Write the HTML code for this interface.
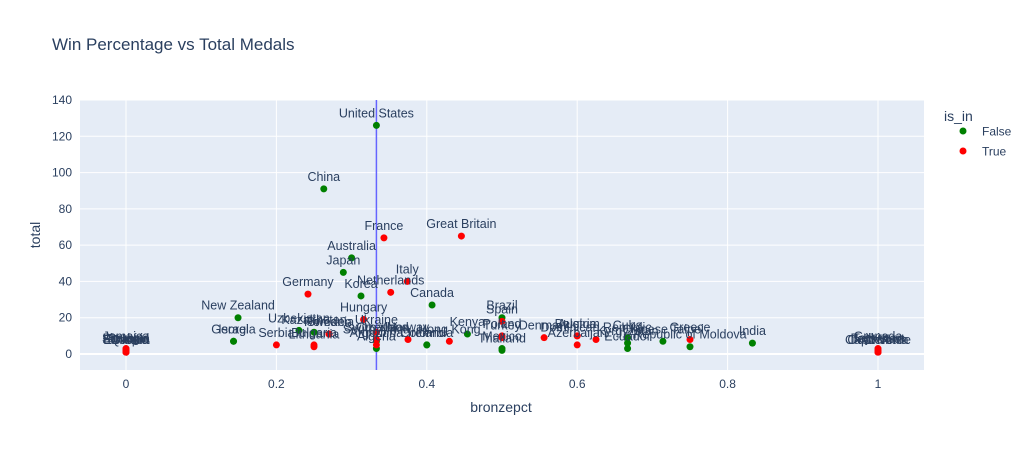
<!DOCTYPE html>
<html><head><meta charset="utf-8"><style>
body{margin:0;background:#fff;font-family:"Liberation Sans",Arial,sans-serif;}
svg text{font-family:"Liberation Sans",Arial,sans-serif;}
</style></head><body>
<svg id="chart" width="1030" height="450">
<rect width="1030" height="450" fill="#fff"/>
<text x="52" y="50" font-size="17" fill="#2a3f5f">Win Percentage vs Total Medals</text>
<rect x="80" y="100" width="844" height="270" fill="#e5ecf6"/>
<g id="grid"></g><g id="marks"></g><g id="labels"></g><g id="axes"></g>
<text x="501" y="412" font-size="14" fill="#2a3f5f" text-anchor="middle">bronzepct</text>
<text transform="translate(40,235) rotate(-90)" font-size="14" fill="#2a3f5f" text-anchor="middle">total</text>
<g>
<text x="944" y="121" font-size="14" fill="#2a3f5f">is_in</text>
<g><circle cx="963" cy="131" r="3.5" fill="green"/><text x="982" y="135.5" font-size="12" fill="#2a3f5f">False</text></g>
<g><circle cx="963" cy="151" r="3.5" fill="red"/><text x="982" y="155.5" font-size="12" fill="#2a3f5f">True</text></g>
</g>
</svg>
<script>
const countries=["United States","China","France","Great Britain","Australia","Japan","Italy","Germany","Netherlands","Korea","Canada","New Zealand","Hungary","Brazil","Spain","Ukraine","Uzbekistan","Kazakhstan","Romania","Sweden","Georgia","Israel","Serbia","Algeria","Bulgaria","South Africa","Switzerland","Norway","Croatia","Ireland","Hong Kong","Kenya","Poland","Turkey","Mexico","Denmark","Belgium","Azerbaijan","Austria","Dominican Republic","Cuba","Kyrgyzstan","Ecuador","Chinese Taipei","Greece","Republic of Moldova","India","Slovenia","Ethiopia","Jamaica","Portugal","Qatar","Slovakia","Serbia ","Tajikistan","Chile","Grenada","Cape Verde","Botswana","Guatemala","Lithuania","Argentina","Thailand","Colombia"];
const bronzepct=[0.333,0.263,0.343,0.446,0.3,0.289,0.374,0.242,0.352,0.3125,0.407,0.149,0.316,0.5,0.5,0.333,0.23,0.25,0.27,0.27,0.143,0.143,0.2,0.333,0.25,0.333,0.333,0.375,0.333,0.4,0.43,0.454,0.5,0.5,0.5,0.556,0.6,0.6,0.6,0.625,0.667,0.667,0.667,0.714,0.75,0.75,0.833,0,0,0,0,0,0,0,1,1,1,1,1,1,0.25,0.333,0.5,0.4];
const totals=[126,91,64,65,53,45,40,33,34,32,27,20,19,20,18,12,13,12,11,11,7,7,5,3,5,7,8,8,8,5,7,11,10,9,3,9,10,5,10,8,9,6,3,7,8,4,6,2,1,3,2,1,1,2,2,1,3,1,2,1,4,5,2,5];
const isIn=[0,0,1,1,0,0,1,1,1,0,0,0,1,0,1,1,0,0,1,1,0,0,1,0,1,0,1,1,1,0,1,0,1,1,0,1,1,1,1,1,0,0,0,0,1,0,0,1,1,1,1,1,1,1,1,1,1,1,1,1,1,1,0,0];
const yTicks=[0,20,40,60,80,100,120,140];
const xTicks=[0,0.2,0.4,0.6,0.8,1];
const vline=0.333;
const NS="http://www.w3.org/2000/svg";
const X=v=>126+v*752, Y=v=>354-v*1.8143;
function mk(t,a,p){const e=document.createElementNS(NS,t);for(const k in a)e.setAttribute(k,a[k]);document.getElementById(p).appendChild(e);return e;}
yTicks.forEach(v=>{
  const l=mk('line',{x1:80,x2:924,y1:Y(v),y2:Y(v),stroke:'#fff','stroke-width':v===0?2:1},'grid');
  
  
  const t=mk('text',{x:72,y:Y(v)+4,'text-anchor':'end','font-size':12,fill:'#2a3f5f'},'axes');t.textContent=v;
  
  
});
xTicks.forEach(v=>{
  const l=mk('line',{x1:X(v),x2:X(v),y1:100,y2:370,stroke:'#fff','stroke-width':1},'grid');
  
  
  const t=mk('text',{x:X(v),y:388,'text-anchor':'middle','font-size':12,fill:'#2a3f5f'},'axes');t.textContent=v;
  
  
});
const vl=mk('line',{x1:X(vline),x2:X(vline),y1:100,y2:370,stroke:'rgb(100,100,255)','stroke-width':1.5},'marks');


countries.forEach((c,i)=>{
  const p=mk('circle',{cx:X(bronzepct[i]),cy:Y(totals[i]),r:3.5,fill:isIn[i]?'red':'green'},'marks');
  
  
  const t=mk('text',{x:X(bronzepct[i]),y:Y(totals[i])-8,'text-anchor':'middle','font-size':12.5,fill:'#2a3f5f'},'labels');t.textContent=c.trim();
  
  
});
</script>
</body></html>
